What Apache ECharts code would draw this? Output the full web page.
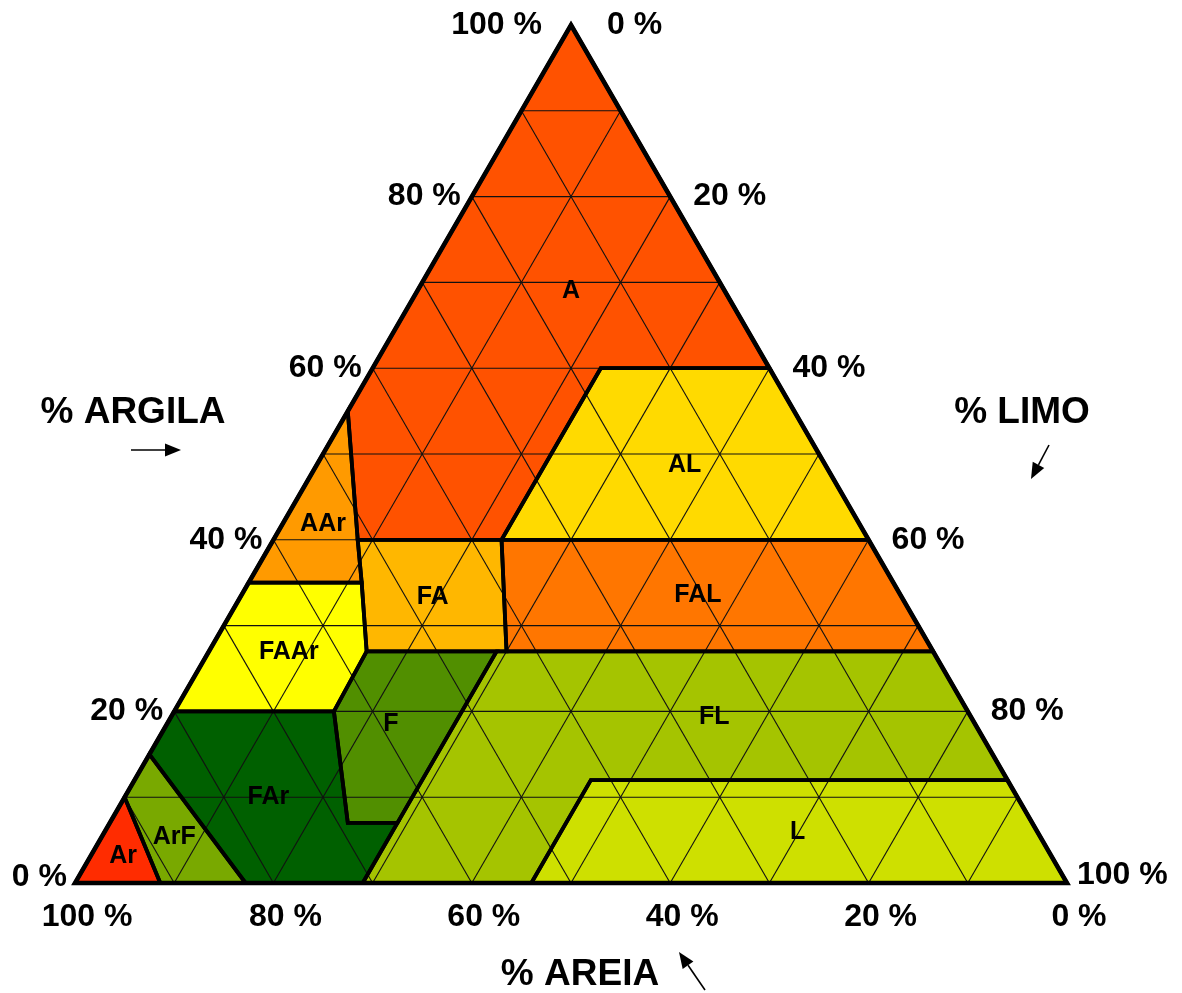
<!DOCTYPE html>
<html><head><meta charset="utf-8">
<script src="https://cdn.jsdelivr.net/npm/echarts@6/dist/echarts.min.js"></script>
<style>html,body{margin:0;padding:0;background:#fff}#c{width:1182px;height:993px}</style>
</head><body><div id="c"></div>
<script>
// Each vertex is [clay %, silt %]; sand % = 100 - clay - silt
const classNames = ['A','AL','AAr','FA','FAL','FAAr','F','FL','L','FAr','ArF','Ar'];
const A    = [[100,0],[60,40],[60,23],[40,23],[40,8.5],[55,0]];
const AL   = [[60,23],[60,40],[40,60],[40,23]];
const AAr  = [[55,0],[40,8.5],[35,11.4],[35,0]];
const FA   = [[40,8.5],[40,23],[27,30],[27,15.9],[35,11.4]];
const FAL  = [[40,23],[40,60],[27,73],[27,30]];
const FAAr = [[35,0],[35,11.4],[27,15.9],[20,16.1],[20,0]];
const F    = [[27,15.9],[27,29],[7,29],[7,24],[20,16.1]];
const FL   = [[27,29],[27,73],[12,88],[12,46],[0,46],[0,29]];
const L    = [[12,46],[12,88],[0,100],[0,46]];
const FAr  = [[20,0],[20,16.1],[7,24],[7,29],[0,29],[0,17.2],[15,0]];
const ArF  = [[15,0],[0,17.2],[0,8.6],[10,0]];
const Ar   = [[10,0],[0,8.6],[0,0]];
// label anchor of each class, [clay %, silt %]
const classLabelAt = [[69,15.5],[48.7,37.1],[41.8,4.1],[33.3,19.4],[33.6,46],[26.9,8.1],[18.5,22.6],[19.3,54.8],[5.9,69.9],[10,14.5],[5.4,7.3],[3.1,3.3]];
const gridSteps = [10,20,30,40,50,60,70,80,90];
const tickValues = [0,20,40,60,80,100];
const tickLabels = ['0 %','20 %','40 %','60 %','80 %','100 %'];
const axisTitles = ['% ARGILA','% LIMO','% AREIA'];

const polys = [A,AL,AAr,FA,FAL,FAAr,F,FL,L,FAr,ArF,Ar];
const colors = ['#FF5200','#FFDA00','#FF9A00','#FFB700','#FF7600','#FFFF00','#518F00','#A5C400','#CEE000','#006000','#79A900','#FF2C00'];
const outer = [[100,0],[0,100],[0,0]];

// ternary [clay, silt] -> cartesian [silt + clay/2, clay]
const toXY = p => [p[1] + p[0]/2, p[0]];

// grid lines from tick steps
const gridLines = [];
gridSteps.forEach(k => {
  gridLines.push([[k,0],[k,100-k]]);        // constant clay
  gridLines.push([[0,k],[100-k,k]]);        // constant silt
  gridLines.push([[0,100-k],[100-k,0]]);    // constant sand
});

const FONT = '"Liberation Sans", Arial, sans-serif';
const chart = echarts.init(document.getElementById('c'), null, {renderer:'canvas'});

function arrow(x1,y1,x2,y2){
  const dx=x2-x1, dy=y2-y1, len=Math.hypot(dx,dy), ux=dx/len, uy=dy/len;
  const hl=16, hw=6.5;
  const bx=x2-ux*hl, by=y2-uy*hl;
  return [
    {type:'line', shape:{x1:x1,y1:y1,x2:bx,y2:by}, style:{stroke:'#000', lineWidth:1.6}},
    {type:'polygon', shape:{points:[[x2,y2],[bx-uy*hw,by+ux*hw],[bx+uy*hw,by-ux*hw]]}, style:{fill:'#000'}}
  ];
}

const titleStyle = {font:'bold 37px '+FONT, fill:'#000', textAlign:'center', textVerticalAlign:'middle', align:'center', verticalAlign:'middle'};

const option = {
  animation:false,
  grid:{left:75, top:25, width:992, height:858, show:false},
  xAxis:{type:'value', min:0, max:100, show:false},
  yAxis:{type:'value', min:0, max:100, show:false},
  graphic:[
    {type:'text', x:133, y:413, style:Object.assign({text:axisTitles[0]}, titleStyle)},
    {type:'text', x:1022, y:413, style:Object.assign({text:axisTitles[1]}, titleStyle)},
    {type:'text', x:580, y:975, style:Object.assign({text:axisTitles[2]}, titleStyle)},
    ...arrow(131,450,181,450),
    ...arrow(1049,445,1031,479),
    ...arrow(705,990,679,952)
  ],
  series:[
    { // fills
      type:'custom', coordinateSystem:'cartesian2d', silent:true, z:1,
      data: polys.map((p,i)=>[i,0]),
      renderItem:(params, api)=>({
        type:'polygon',
        shape:{points: polys[params.dataIndex].map(p=>api.coord(toXY(p)))},
        style:{fill: colors[params.dataIndex], stroke:null, lineWidth:0}
      })
    },
    { // grid
      type:'custom', coordinateSystem:'cartesian2d', silent:true, z:2,
      data: gridLines.map((l,i)=>[i,0]),
      renderItem:(params, api)=>{
        const l = gridLines[params.dataIndex];
        const a = api.coord(toXY(l[0])), b = api.coord(toXY(l[1]));
        return {type:'line', shape:{x1:a[0],y1:a[1],x2:b[0],y2:b[1]}, style:{stroke:'#111', lineWidth:1.1}};
      }
    },
    { // class borders
      type:'custom', coordinateSystem:'cartesian2d', silent:true, z:3,
      data: polys.map((p,i)=>[i,0]),
      renderItem:(params, api)=>({
        type:'polygon',
        shape:{points: polys[params.dataIndex].map(p=>api.coord(toXY(p)))},
        style:{fill:null, stroke:'#000', lineWidth:3.8, lineJoin:'miter'}
      })
    },
    { // outer triangle
      type:'custom', coordinateSystem:'cartesian2d', silent:true, z:4,
      data:[[0,0]],
      renderItem:(params, api)=>({
        type:'polygon',
        shape:{points: outer.map(p=>api.coord(toXY(p)))},
        style:{fill:null, stroke:'#000', lineWidth:4.5, lineJoin:'miter'}
      })
    },
    { // class labels
      type:'custom', coordinateSystem:'cartesian2d', silent:true, z:5,
      data: classNames.map((n,i)=>[i,0]),
      renderItem:(params, api)=>{
        const p = api.coord(toXY(classLabelAt[params.dataIndex]));
        return {type:'text', x:p[0], y:p[1], style:{text:classNames[params.dataIndex], font:'bold 25px '+FONT, fill:'#000', textAlign:'center', textVerticalAlign:'middle', align:'center', verticalAlign:'middle'}};
      }
    },
    { // tick labels: clay (left), silt (right), sand (bottom)
      type:'custom', coordinateSystem:'cartesian2d', silent:true, z:5,
      data: tickValues.map((v,i)=>[i,0]),
      renderItem:(params, api)=>{
        const i = params.dataIndex, v = tickValues[i];
        const font = 'bold 32px '+FONT;
        const pl = api.coord(toXY([v,0]));
        const lOff = v===100 ? -29 : (v===0 ? -8 : -11);
        const lDy = v===0 ? -6 : 0;
        const pr = api.coord(toXY([100-v, v]));
        const rOff = v===0 ? 36 : (v===100 ? 10 : 23);
        const rDy = v===100 ? -8 : 0;
        const pb = api.coord(toXY([0, 100-v]));
        const base = {font:font, fill:'#000', textVerticalAlign:'middle', verticalAlign:'middle'};
        return {type:'group', children:[
          {type:'text', x:pl[0]+lOff, y:pl[1]+lDy, style:Object.assign({text:tickLabels[i], textAlign:'right', align:'right'}, base)},
          {type:'text', x:pr[0]+rOff, y:pr[1]+rDy, style:Object.assign({text:tickLabels[i], textAlign:'left', align:'left'}, base)},
          {type:'text', x:pb[0]+12, y:pb[1]+34, style:Object.assign({text:tickLabels[i], textAlign:'center', align:'center'}, base)}
        ]};
      }
    }
  ]
};
chart.setOption(option);
</script>
</body></html>
